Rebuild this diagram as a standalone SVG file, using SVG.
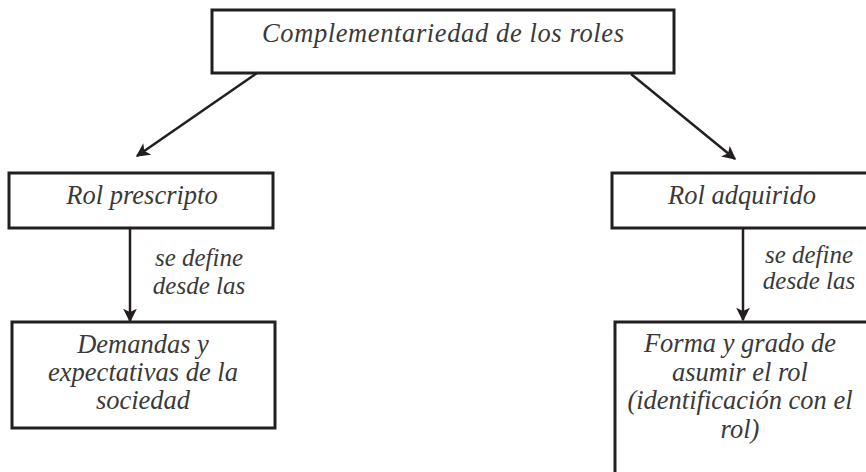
<svg xmlns="http://www.w3.org/2000/svg" width="866" height="472" viewBox="0 0 866 472">
<style>
.box{fill:#fff;stroke:#231f20;stroke-width:3}
.t{font-family:"Liberation Serif",serif;font-style:italic;font-size:26.5px;fill:#3a3a3a;text-anchor:middle}
.l{font-family:"Liberation Serif",serif;font-style:italic;font-size:25px;fill:#3a3a3a;text-anchor:middle}
.c{stroke:#231f20;stroke-width:2.5;fill:none}
</style>
<defs>
<marker id="ah" viewBox="0 0 10 10" refX="9" refY="5" markerWidth="6" markerHeight="5.5" orient="auto" markerUnits="strokeWidth">
<path d="M0,0 L10,5 L0,10 L2.5,5 z" fill="#231f20"/>
</marker>
</defs>
<rect width="866" height="472" fill="#fff"/>
<g id="title"><rect class="box" x="212" y="10" width="462" height="63"/><text class="t" x="443" y="42" textLength="362" lengthAdjust="spacing">Complementariedad de los roles</text></g>
<g id="prescripto"><rect class="box" x="9" y="173" width="264" height="55"/><text class="t" x="142" y="204">Rol prescripto</text></g>
<g id="adquirido"><rect class="box" x="612" y="173" width="260" height="55"/><text class="t" x="742" y="204">Rol adquirido</text></g>
<g id="demandas"><rect class="box" x="12" y="322" width="263" height="106"/><text class="t" x="143" y="353">Demandas y</text><text class="t" x="143" y="381">expectativas de la</text><text class="t" x="143" y="409">sociedad</text></g>
<g id="forma"><rect class="box" x="615" y="322" width="260" height="160"/><text class="t" x="740" y="352">Forma y grado de</text><text class="t" x="740" y="381">asumir el rol</text><text class="t" x="740" y="409">(identificación con el</text><text class="t" x="740" y="438">rol)</text></g>
<g id="connectors">
<line class="c" x1="257" y1="73" x2="137" y2="156" marker-end="url(#ah)"/>
<line class="c" x1="631" y1="74" x2="735" y2="159" marker-end="url(#ah)"/>
<line class="c" x1="130" y1="228" x2="130" y2="321" marker-end="url(#ah)"/>
<line class="c" x1="743" y1="228" x2="743" y2="320" marker-end="url(#ah)"/>
<text class="l" x="199" y="266">se define</text><text class="l" x="199" y="294">desde las</text>
<text class="l" x="809" y="263">se define</text><text class="l" x="809" y="289">desde las</text>
</g>
</svg>
